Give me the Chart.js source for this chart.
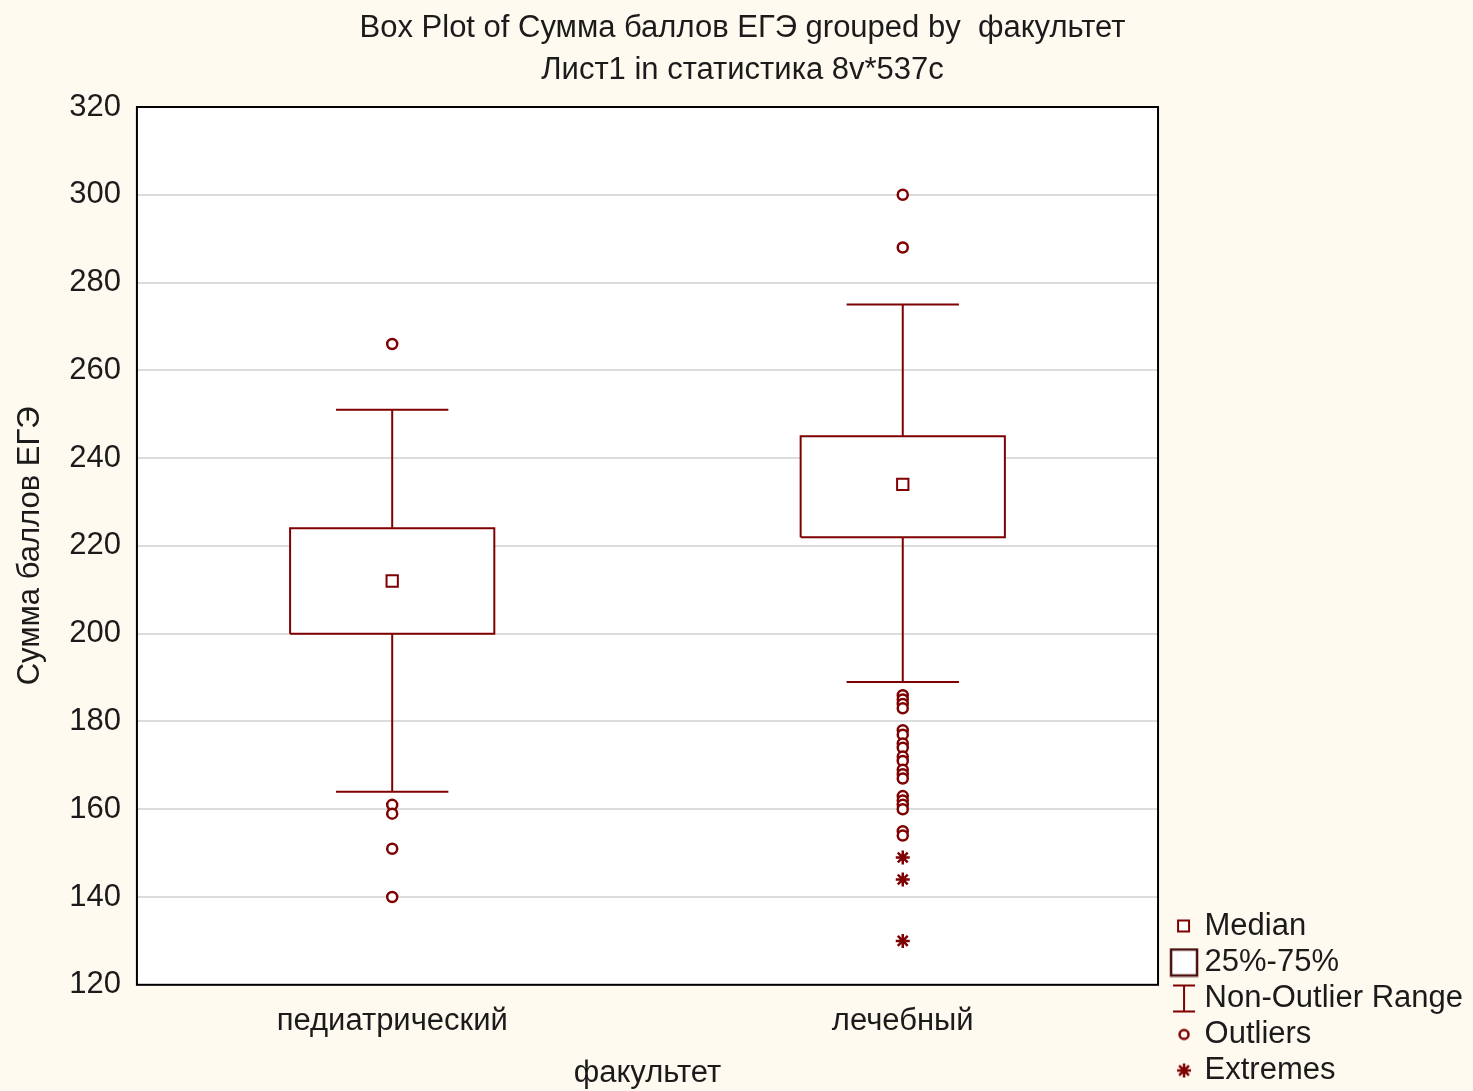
<!DOCTYPE html>
<html>
<head>
<meta charset="utf-8">
<script src="https://cdn.jsdelivr.net/npm/chart.js@4.4.1/dist/chart.umd.min.js"></script>
<style>
  html, body { margin: 0; padding: 0; background: #fffaf0; }
  #wrap { width: 1473px; height: 1091px; }
</style>
</head>
<body>
<div id="wrap"><canvas id="chart" width="1473" height="1091"></canvas></div>
<script>
// data
const categories = ['педиатрический', 'лечебный'];
const q1 = [200, 222];
const median = [212, 234];
const q3 = [224, 245];
const whiskerLow = [164, 189];
const whiskerHigh = [251, 275];
const outliers = [
  [266, 161, 159, 151, 140],
  [300, 288, 186, 185, 184, 183, 178, 177, 175, 174, 172, 171, 169, 168, 167, 163, 162, 161, 160, 155, 154]
];
const extremes = [
  [],
  [149, 144, 130]
];
const yTicks = [120, 140, 160, 180, 200, 220, 240, 260, 280, 300, 320];
const legendNames = ['Median', '25%-75%', 'Non-Outlier Range', 'Outliers', 'Extremes'];

const RED = '#7f0000';
const TEXT = '#1b1b1b';
const FONT = 31;
const BOX_HALF = 0.2;
const CAP_HALF = 0.11;

Chart.defaults.font.family = '"Liberation Sans", Arial, sans-serif';
Chart.defaults.color = TEXT;

// boxes as closed outlines
const boxSets = categories.map((c, i) => ({
  type: 'line',
  data: [
    { x: i - BOX_HALF, y: q1[i] }, { x: i + BOX_HALF, y: q1[i] },
    { x: i + BOX_HALF, y: q3[i] }, { x: i - BOX_HALF, y: q3[i] },
    { x: i - BOX_HALF, y: q1[i] }
  ],
  borderColor: RED, borderWidth: 2, backgroundColor: '#ffffff',
  fill: 'shape', pointRadius: 0, tension: 0, order: 2
}));

// whiskers with caps, null breaks the line
const whiskerData = [];
categories.forEach((c, i) => {
  whiskerData.push({ x: i, y: q3[i] }, { x: i, y: whiskerHigh[i] }, { x: i, y: null });
  whiskerData.push({ x: i - CAP_HALF, y: whiskerHigh[i] }, { x: i + CAP_HALF, y: whiskerHigh[i] }, { x: i, y: null });
  whiskerData.push({ x: i, y: q1[i] }, { x: i, y: whiskerLow[i] }, { x: i, y: null });
  whiskerData.push({ x: i - CAP_HALF, y: whiskerLow[i] }, { x: i + CAP_HALF, y: whiskerLow[i] }, { x: i, y: null });
});

const medianData = categories.map((c, i) => ({ x: i, y: median[i] }));
const outlierData = [];
outliers.forEach((arr, i) => arr.forEach(v => outlierData.push({ x: i, y: v })));
const extremeData = [];
extremes.forEach((arr, i) => arr.forEach(v => extremeData.push({ x: i, y: v })));

// legend symbols, drawn a bit right of the canvas centre
const SHIFT = 16;
function symbol(w, h, draw) {
  const c = document.createElement('canvas');
  c.width = w + SHIFT; c.height = h;
  const g = c.getContext('2d');
  g.translate(SHIFT, 0);
  draw(g);
  return c;
}
const legendSymbols = [
  symbol(16, 16, g => { g.fillStyle = '#fff'; g.fillRect(2, 2, 11, 11); g.strokeStyle = RED; g.lineWidth = 2; g.strokeRect(2, 2, 11, 11); }),
  symbol(30, 30, g => { g.fillStyle = '#fff'; g.fillRect(2, 2, 26, 26); g.strokeStyle = '#4a1010'; g.lineWidth = 2.5; g.strokeRect(2, 2, 26, 26); }),
  symbol(28, 30, g => {
    g.strokeStyle = RED; g.lineWidth = 2; g.beginPath();
    g.moveTo(3, 2); g.lineTo(25, 2); g.moveTo(14, 2); g.lineTo(14, 28); g.moveTo(3, 28); g.lineTo(25, 28); g.stroke();
  }),
  symbol(16, 16, g => { g.strokeStyle = RED; g.lineWidth = 2.5; g.beginPath(); g.arc(8, 8, 4.5, 0, Math.PI * 2); g.stroke(); }),
  symbol(18, 18, g => {
    g.strokeStyle = RED; g.lineWidth = 2.5; g.beginPath();
    for (let k = 0; k < 4; k++) {
      const a = k * Math.PI / 4;
      g.moveTo(9 - 7 * Math.cos(a), 9 - 7 * Math.sin(a));
      g.lineTo(9 + 7 * Math.cos(a), 9 + 7 * Math.sin(a));
    }
    g.stroke();
  })
];

const plotFrame = {
  id: 'plotFrame',
  beforeDraw(chart) {
    const a = chart.chartArea, ctx = chart.ctx;
    ctx.save();
    ctx.fillStyle = '#ffffff';
    ctx.fillRect(a.left, a.top, a.right - a.left, a.bottom - a.top);
    ctx.restore();
  },
  afterDraw(chart) {
    const a = chart.chartArea, ctx = chart.ctx;
    ctx.save();
    ctx.strokeStyle = '#000';
    ctx.lineWidth = 2;
    ctx.strokeRect(a.left, a.top, a.right - a.left, a.bottom - a.top);
    ctx.restore();
  }
};

const ctx = document.getElementById('chart').getContext('2d');
const chart = new Chart(ctx, {
  type: 'line',
  data: {
    datasets: [
      { label: 'Median', data: medianData, showLine: false, pointStyle: 'rect', pointRadius: 8,
        pointBorderWidth: 2, pointBorderColor: RED, pointBackgroundColor: '#fff', order: 0 },
      { label: 'Outliers', data: outlierData, showLine: false, pointStyle: 'circle', pointRadius: 5,
        pointBorderWidth: 2.5, pointBorderColor: RED, pointBackgroundColor: '#fff', order: 1 },
      { label: 'Extremes', data: extremeData, showLine: false, pointStyle: 'star', pointRadius: 7,
        pointBorderWidth: 2.5, pointBorderColor: RED, order: 1 },
      ...boxSets,
      { label: 'Whiskers', data: whiskerData, borderColor: RED, borderWidth: 2, pointRadius: 0,
        fill: false, spanGaps: false, order: 3 }
    ]
  },
  options: {
    responsive: false,
    animation: false,
    layout: { padding: { left: 12, top: 0, right: 0, bottom: 0 } },
    plugins: {
      tooltip: { enabled: false },
      title: {
        display: true,
        text: ['Box Plot of Сумма баллов ЕГЭ grouped by  факультет', 'Лист1 in статистика 8v*537c'],
        font: { size: FONT, weight: 'normal', lineHeight: 1.355 },
        color: TEXT,
        padding: { top: 7, bottom: 16 }
      },
      legend: {
        position: 'right',
        align: 'end',
        onClick: null,
        labels: {
          usePointStyle: true,
          boxWidth: 26,
          boxHeight: 26,
          font: { size: FONT },
          color: TEXT,
          padding: 5,
          generateLabels: () => legendNames.map((name, i) => ({
            text: name, pointStyle: legendSymbols[i], fillStyle: '#fff',
            strokeStyle: RED, lineWidth: 0, hidden: false, fontColor: TEXT
          }))
        }
      }
    },
    scales: {
      x: {
        type: 'linear',
        min: -0.5,
        max: 1.5,
        afterBuildTicks: scale => { scale.ticks = categories.map((c, i) => ({ value: i })); },
        ticks: { callback: v => categories[v], font: { size: FONT }, color: TEXT, padding: 18 },
        grid: { display: false, drawTicks: false },
        border: { display: false },
        title: { display: true, text: 'факультет', font: { size: FONT, lineHeight: 1.0 }, color: TEXT, padding: { top: 0, bottom: 2 } }
      },
      y: {
        min: 120,
        max: 320,
        afterBuildTicks: scale => { scale.ticks = yTicks.map(v => ({ value: v })); },
        ticks: { font: { size: FONT }, color: TEXT, padding: 16 },
        grid: { color: '#dcdcdc', lineWidth: 2, drawTicks: false },
        border: { display: false },
        title: { display: true, text: 'Сумма баллов ЕГЭ', font: { size: FONT }, color: TEXT, padding: { top: 0, bottom: 4 } }
      }
    }
  },
  plugins: [plotFrame]
});
</script>
</body>
</html>
